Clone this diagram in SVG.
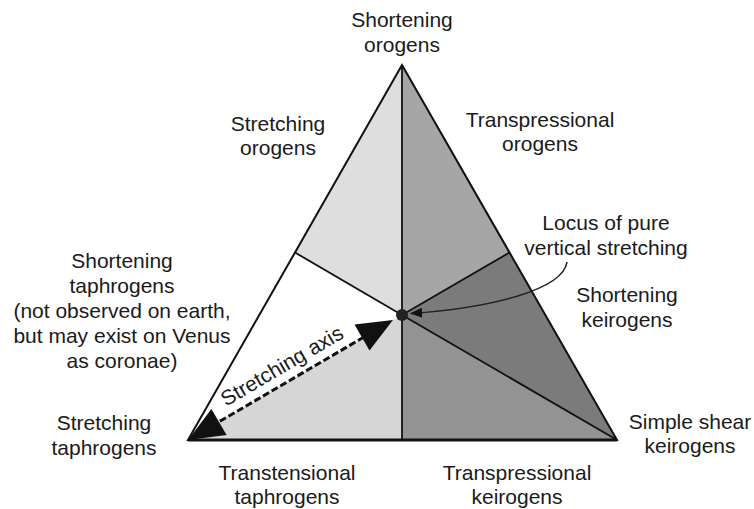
<svg xmlns="http://www.w3.org/2000/svg" width="754" height="509" viewBox="0 0 754 509">
<defs>
<style>
text{font-family:"Liberation Sans",Arial,sans-serif;font-size:21px;fill:#1a1a1a;text-anchor:middle}
.edge{stroke:#111;stroke-width:2;fill:none;stroke-linejoin:miter}
.div{stroke:#111;stroke-width:1.8;fill:none}
</style>
<marker id="ah" viewBox="0 0 12 10" refX="11" refY="5" markerWidth="12" markerHeight="10" markerUnits="userSpaceOnUse" orient="auto">
<path d="M0,0 L12,5 L0,10 Z" fill="#111"/>
</marker>
</defs>
<rect width="754" height="509" fill="#fff"/>
<g id="regions">
<polygon id="stretching-orogens" points="402,65 295,252.5 402,315" fill="#dedede"/>
<polygon id="shortening-taphrogens" points="295,252.5 188,440 402,315" fill="#ffffff"/>
<polygon id="transtensional-taphrogens" points="188,440 402,440 402,315" fill="#d6d6d6"/>
<polygon id="transpressional-orogens" points="402,65 402,315 509.5,252.5" fill="#a6a6a6"/>
<polygon id="shortening-keirogens" points="509.5,252.5 617,440 402,315" fill="#7b7b7b"/>
<polygon id="transpressional-keirogens" points="402,315 617,440 402,440" fill="#939393"/>
</g>
<g id="connectors">
<line class="div" x1="402" y1="65" x2="402" y2="440"/>
<line class="div" x1="295" y1="252.5" x2="402" y2="315"/>
<line class="div" x1="402" y1="315" x2="509.5" y2="252.5"/>
<line class="div" x1="402" y1="315" x2="617" y2="440"/>
<polygon class="edge" points="402,65 188,440 617,440"/>
<line x1="188" y1="440" x2="617" y2="440" stroke="#111" stroke-width="3"/>
<line x1="364" y1="337" x2="217" y2="423" stroke="#111" stroke-width="3" stroke-dasharray="7 3"/>
<polygon points="393,320 369.5,350.5 354.5,324.5" fill="#111"/>
<polygon points="188,440 226.6,435 211.4,409" fill="#111"/>
<path d="M567,262 C563,290 490,308 411,313.5" fill="none" stroke="#222" stroke-width="1.6" marker-end="url(#ah)"/>
</g>
<g id="center-dot"><circle cx="402" cy="315" r="6" fill="#222"/></g>
<g id="label-top"><text x="402" y="27">Shortening</text><text x="402" y="52">orogens</text></g>
<g id="label-stretching-orogens"><text x="278" y="131">Stretching</text><text x="278" y="155">orogens</text></g>
<g id="label-transpressional-orogens"><text x="540" y="127">Transpressional</text><text x="540" y="151">orogens</text></g>
<g id="label-locus"><text x="606" y="230">Locus of pure</text><text x="606" y="255">vertical stretching</text></g>
<g id="label-shortening-keirogens"><text x="627" y="302">Shortening</text><text x="627" y="327">keirogens</text></g>
<g id="label-shortening-taphrogens"><text x="122" y="268">Shortening</text><text x="122" y="293">taphrogens</text><text x="122" y="318">(not observed on earth,</text><text x="122" y="343">but may exist on Venus</text><text x="122" y="368">as coronae)</text></g>
<g id="label-stretching-taphrogens"><text x="104" y="430">Stretching</text><text x="104" y="455">taphrogens</text></g>
<g id="label-simple-shear"><text x="690" y="429">Simple shear</text><text x="690" y="453">keirogens</text></g>
<g id="label-transtensional"><text x="287" y="480">Transtensional</text><text x="287" y="504">taphrogens</text></g>
<g id="label-transpressional-keirogens"><text x="517" y="480">Transpressional</text><text x="517" y="504">keirogens</text></g>
<g id="label-axis"><text transform="translate(285.5,372) rotate(-30.3)">Stretching axis</text></g>
</svg>
